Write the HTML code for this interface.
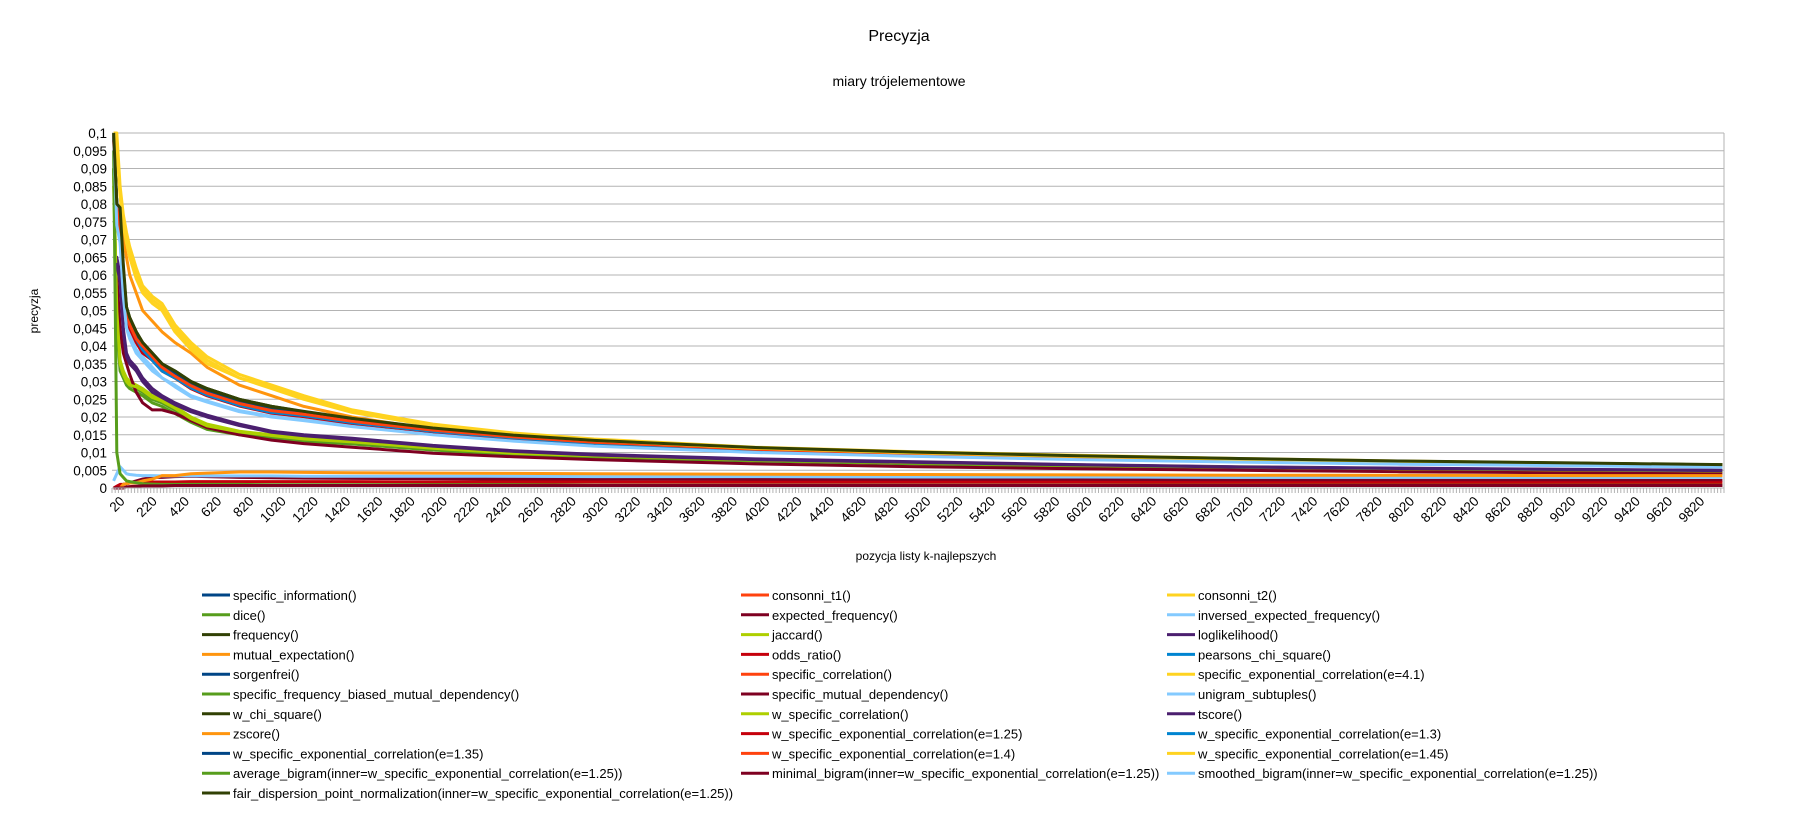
<!DOCTYPE html>
<html><head><meta charset="utf-8">
<style>
body{margin:0;background:#fff;}
svg text{font-family:"Liberation Sans",sans-serif;fill:#000;}
</style></head>
<body>
<svg id="chart" width="1796" height="811" viewBox="0 0 1796 811" xmlns="http://www.w3.org/2000/svg">
<rect width="1796" height="811" fill="#fff"/>
<text x="899" y="41" font-size="16" text-anchor="middle">Precyzja</text>
<text x="899" y="86" font-size="14" text-anchor="middle">miary trójelementowe</text>
<text x="0" y="0" font-size="12" text-anchor="middle" transform="translate(38,311) rotate(-90)">precyzja</text>
<text x="926" y="560" font-size="12" text-anchor="middle">pozycja listy k-najlepszych</text>
<g id="grid"></g><g id="series"></g><g id="axes"></g><g id="legend"></g>
</svg>
<script>
const kPos=[20,40,60,80,100,120,160,200,260,320,400,500,600,800,1000,1200,1500,2000,2500,3000,4000,5000,6000,7000,8000,9000,10000];
const yTicks=[0,0.005,0.01,0.015,0.02,0.025,0.03,0.035,0.04,0.045,0.05,0.055,0.06,0.065,0.07,0.075,0.08,0.085,0.09,0.095,0.1];
const yTickLabels=["0","0,005","0,01","0,015","0,02","0,025","0,03","0,035","0,04","0,045","0,05","0,055","0,06","0,065","0,07","0,075","0,08","0,085","0,09","0,095","0,1"];
const seriesNames=["specific_information()","consonni_t1()","consonni_t2()","dice()","expected_frequency()","inversed_expected_frequency()","frequency()","jaccard()","loglikelihood()","mutual_expectation()","odds_ratio()","pearsons_chi_square()","sorgenfrei()","specific_correlation()","specific_exponential_correlation(e=4.1)","specific_frequency_biased_mutual_dependency()","specific_mutual_dependency()","unigram_subtuples()","w_chi_square()","w_specific_correlation()","tscore()","zscore()","w_specific_exponential_correlation(e=1.25)","w_specific_exponential_correlation(e=1.3)","w_specific_exponential_correlation(e=1.35)","w_specific_exponential_correlation(e=1.4)","w_specific_exponential_correlation(e=1.45)","average_bigram(inner=w_specific_exponential_correlation(e=1.25))","minimal_bigram(inner=w_specific_exponential_correlation(e=1.25))","smoothed_bigram(inner=w_specific_exponential_correlation(e=1.25))","fair_dispersion_point_normalization(inner=w_specific_exponential_correlation(e=1.25))"];
const seriesColors=["#004586","#ff420e","#ffd320","#579d1c","#7e0021","#83caff","#314004","#aecf00","#4b1f6f","#ff950e","#c5000b","#0084d1"];
const s01=[0.1,0.08,0.074,0.06,0.05,0.047,0.043,0.04,0.037,0.034,0.032,0.029,0.027,0.024,0.022,0.021,0.019,0.0165,0.0145,0.013,0.011,0.0098,0.0088,0.008,0.0074,0.0069,0.0064];
const s02=[0.1,0.079,0.073,0.059,0.05,0.046,0.042,0.039,0.036,0.034,0.031,0.029,0.027,0.024,0.0218,0.0205,0.0188,0.0163,0.0143,0.0128,0.0108,0.0096,0.0087,0.0079,0.0073,0.0068,0.0063];
const s03=[0.1,0.1,0.085,0.077,0.072,0.068,0.062,0.057,0.054,0.052,0.046,0.041,0.037,0.032,0.029,0.026,0.022,0.018,0.0155,0.0138,0.0115,0.0102,0.0092,0.0083,0.0076,0.007,0.0065];
const s04=[0.09,0.05,0.035,0.032,0.03,0.029,0.028,0.027,0.025,0.024,0.022,0.019,0.017,0.0155,0.0145,0.0135,0.0128,0.011,0.0097,0.009,0.0078,0.007,0.0063,0.0058,0.0053,0.005,0.0047];
const s05=[0,0,0.0005,0.001,0.0012,0.0015,0.002,0.0025,0.003,0.003,0.0032,0.0033,0.0032,0.003,0.0029,0.0028,0.0027,0.0026,0.0025,0.0025,0.0024,0.0023,0.0023,0.0022,0.0022,0.0022,0.0021];
const s06=[0.002,0.004,0.006,0.005,0.004,0.0038,0.0036,0.0035,0.0035,0.0034,0.0034,0.0034,0.0034,0.0034,0.0034,0.0033,0.0033,0.0033,0.0033,0.0032,0.0032,0.0031,0.0031,0.003,0.003,0.003,0.003];
const s07=[0.1,0.08,0.078,0.062,0.05,0.048,0.044,0.041,0.038,0.035,0.033,0.03,0.028,0.025,0.023,0.0215,0.0195,0.0168,0.0148,0.0133,0.0113,0.01,0.009,0.0082,0.0075,0.007,0.0065];
const s08=[0.085,0.05,0.036,0.033,0.031,0.03,0.029,0.028,0.026,0.025,0.023,0.02,0.018,0.016,0.015,0.014,0.013,0.0112,0.0099,0.0092,0.008,0.0072,0.0065,0.0059,0.0054,0.0051,0.0048];
const s09=[0.065,0.065,0.06,0.045,0.038,0.036,0.034,0.031,0.028,0.026,0.024,0.022,0.0205,0.018,0.016,0.015,0.014,0.012,0.0105,0.0095,0.0082,0.0074,0.0066,0.006,0.0056,0.0053,0.005];
const s10=[0.09,0.08,0.075,0.07,0.065,0.06,0.055,0.05,0.047,0.044,0.041,0.038,0.034,0.029,0.026,0.023,0.02,0.0165,0.014,0.0125,0.0107,0.0095,0.0085,0.0077,0.0071,0.0066,0.006];
const s11=[0,0.0005,0.001,0.001,0.0012,0.0014,0.0015,0.0016,0.0017,0.0017,0.0017,0.0018,0.0018,0.0018,0.0018,0.0018,0.0018,0.0017,0.0017,0.0017,0.0016,0.0016,0.0016,0.0015,0.0015,0.0015,0.0015];
const s12=[0.1,0.078,0.072,0.058,0.049,0.046,0.042,0.039,0.036,0.033,0.031,0.028,0.0262,0.0233,0.0213,0.0203,0.0185,0.016,0.0141,0.0126,0.0107,0.0095,0.0085,0.0078,0.0072,0.0067,0.0062];
const s13=[0.1,0.079,0.073,0.06,0.05,0.047,0.043,0.04,0.037,0.034,0.0315,0.0288,0.0268,0.0238,0.0218,0.0208,0.0188,0.0163,0.0144,0.0129,0.0109,0.0097,0.0087,0.0079,0.0073,0.0068,0.0063];
const s14=[0.095,0.078,0.072,0.058,0.049,0.046,0.042,0.039,0.036,0.033,0.031,0.028,0.026,0.0232,0.0214,0.0203,0.0184,0.016,0.014,0.0126,0.0107,0.0095,0.0085,0.0078,0.0072,0.0067,0.0062];
const s15=[0.1,0.098,0.083,0.075,0.07,0.066,0.06,0.056,0.053,0.051,0.045,0.04,0.036,0.031,0.0285,0.0255,0.0216,0.0177,0.0152,0.0135,0.0113,0.01,0.009,0.0081,0.0075,0.0069,0.0064];
const s16=[0.09,0.045,0.033,0.031,0.029,0.028,0.027,0.026,0.024,0.023,0.021,0.0185,0.0165,0.015,0.014,0.0131,0.0124,0.0107,0.0094,0.0087,0.0076,0.0068,0.0061,0.0056,0.0052,0.0049,0.0046];
const s17=[0.06,0.06,0.045,0.038,0.035,0.032,0.027,0.024,0.022,0.022,0.021,0.019,0.017,0.015,0.0135,0.0125,0.0115,0.0098,0.0088,0.008,0.0068,0.006,0.0054,0.005,0.0046,0.0043,0.004];
const s18=[0.1,0.075,0.07,0.055,0.046,0.043,0.039,0.037,0.034,0.031,0.029,0.026,0.0245,0.0218,0.0202,0.0192,0.0175,0.0152,0.0134,0.012,0.0102,0.009,0.0081,0.0074,0.0068,0.0064,0.006];
const s19=[0.1,0.08,0.077,0.061,0.051,0.048,0.044,0.041,0.038,0.035,0.0325,0.0295,0.0275,0.0245,0.0225,0.0212,0.0192,0.0166,0.0146,0.0131,0.0111,0.0099,0.0089,0.0081,0.0075,0.007,0.0065];
const s20=[0.088,0.05,0.035,0.032,0.03,0.029,0.0285,0.0275,0.0255,0.0245,0.0225,0.0195,0.0175,0.0158,0.0148,0.0138,0.013,0.0112,0.0098,0.0091,0.0079,0.0071,0.0064,0.0059,0.0054,0.0051,0.0048];
const s21=[0.063,0.063,0.058,0.044,0.037,0.035,0.033,0.03,0.027,0.0255,0.0235,0.0215,0.02,0.0176,0.0157,0.0147,0.0137,0.0118,0.0103,0.0093,0.008,0.0072,0.0065,0.0059,0.0055,0.0052,0.0049];
const s22=[0,0,0,0.001,0.0012,0.0014,0.0015,0.002,0.0025,0.0035,0.0035,0.004,0.0042,0.0045,0.0045,0.0044,0.0043,0.0042,0.0041,0.004,0.0039,0.0038,0.0037,0.0036,0.0036,0.0035,0.0035];
const s23=[0.098,0.078,0.071,0.058,0.049,0.045,0.041,0.038,0.036,0.033,0.031,0.028,0.026,0.0231,0.0211,0.0201,0.0182,0.0158,0.0139,0.0125,0.0106,0.0094,0.0085,0.0077,0.0071,0.0066,0.0062];
const s24=[0.1,0.078,0.072,0.058,0.049,0.046,0.042,0.039,0.036,0.033,0.031,0.0282,0.0262,0.0233,0.0213,0.0204,0.0184,0.016,0.0141,0.0126,0.0107,0.0095,0.0085,0.0078,0.0072,0.0067,0.0062];
const s25=[0.1,0.08,0.074,0.06,0.05,0.047,0.043,0.04,0.037,0.034,0.032,0.029,0.027,0.024,0.022,0.021,0.019,0.0165,0.0145,0.013,0.011,0.0098,0.0088,0.008,0.0074,0.0069,0.0064];
const s26=[0.1,0.079,0.073,0.059,0.05,0.046,0.042,0.04,0.037,0.034,0.0315,0.0288,0.0267,0.0238,0.0218,0.0208,0.0188,0.0163,0.0144,0.0129,0.0109,0.0097,0.0087,0.0079,0.0073,0.0068,0.0063];
const s27=[0.1,0.096,0.082,0.074,0.069,0.065,0.059,0.055,0.052,0.05,0.044,0.039,0.035,0.031,0.028,0.025,0.0213,0.0175,0.015,0.0134,0.0112,0.0099,0.0089,0.0081,0.0074,0.0068,0.0063];
const s28=[0.095,0.01,0.004,0.003,0.002,0.0018,0.0015,0.0012,0.0011,0.001,0.001,0.001,0.001,0.001,0.0009,0.0009,0.0009,0.0009,0.0009,0.0008,0.0008,0.0008,0.0008,0.0008,0.0008,0.0008,0.0008];
const s29=[0,0,0,0,0.0003,0.0004,0.0005,0.0006,0.0006,0.0006,0.0007,0.0007,0.0007,0.0007,0.0007,0.0007,0.0007,0.0007,0.0007,0.0007,0.0007,0.0007,0.0007,0.0007,0.0007,0.0007,0.0007];
const s30=[0.1,0.074,0.069,0.054,0.045,0.042,0.038,0.036,0.033,0.031,0.0285,0.0257,0.0242,0.0215,0.02,0.019,0.0173,0.015,0.0132,0.0118,0.01,0.0089,0.008,0.0073,0.0067,0.0063,0.0059];
const s31=[0.1,0.08,0.079,0.063,0.051,0.048,0.044,0.041,0.038,0.035,0.033,0.03,0.028,0.025,0.023,0.0216,0.0196,0.0169,0.0149,0.0134,0.0114,0.0101,0.0091,0.0083,0.0076,0.0071,0.0066];
const seriesValues=[s01,s02,s03,s04,s05,s06,s07,s08,s09,s10,s11,s12,s13,s14,s15,s16,s17,s18,s19,s20,s21,s22,s23,s24,s25,s26,s27,s28,s29,s30,s31];

const NS="http://www.w3.org/2000/svg";
const X0=112,X1=1724,Y0=488,Y1=133,NCAT=500;
const catW=(X1-X0)/NCAT;
function xScale(k){return X0+(k/20-0.5)*catW;}
function yScale(v){return Y0-(v/0.1)*(Y0-Y1);}
function mk(tag,attrs,parent){const e=document.createElementNS(NS,tag);for(const a in attrs)e.setAttribute(a,attrs[a]);parent.appendChild(e);return e;}

const grid=document.getElementById('grid');
yTicks.forEach((t,i)=>{
  const y=yScale(t);
  if(i>0){const l=mk('line',{x1:X0,x2:X1,y1:y,y2:y,stroke:'#b3b3b3','stroke-width':1},grid);
  
  }
  const tx=mk('text',{x:107,y:y+5,'font-size':13.5,'text-anchor':'end'},grid);
  tx.textContent=yTickLabels[i];
  
  
});
mk('line',{x1:X1,x2:X1,y1:Y1,y2:Y0,stroke:'#b3b3b3'},grid);

const sg=document.getElementById('series');
seriesValues.forEach((vals,i)=>{
  const pts=kPos.map((k,j)=>xScale(k).toFixed(1)+','+yScale(vals[j]).toFixed(1)).join(' ');
  const p=mk('polyline',{points:pts,fill:'none',stroke:seriesColors[i%12],'stroke-width':3,'stroke-linejoin':'round'},sg);
  
  
});

const ax=document.getElementById('axes');
const axl=mk('line',{x1:X0,x2:X1,y1:Y0,y2:Y0,stroke:'#b3b3b3'},ax);


let tickPath='';
for(let c=0;c<=NCAT;c++){const x=(X0+c*catW).toFixed(1);tickPath+='M'+x+' '+Y0+'V'+(Y0+5);}
mk('path',{d:tickPath,stroke:'#b3b3b3','stroke-width':1},ax);
for(let c=0;c<NCAT;c+=10){
  const k=(c+1)*20;const x=xScale(k);
  const t=mk('text',{x:0,y:0,'font-size':13.5,'text-anchor':'end',transform:'translate('+(x+12)+','+(Y0+14)+') rotate(-45)'},ax);
  t.textContent=String(k);
  
  
}

const lg=document.getElementById('legend');
const colX=[202,741,1167];
seriesNames.forEach((n,i)=>{
  const r=Math.floor(i/3),c=i%3;const y=595+r*19.8;
  const g=mk('g',{},lg);
  
  
  mk('line',{x1:colX[c],x2:colX[c]+28,y1:y,y2:y,stroke:seriesColors[i%12],'stroke-width':3},g);
  const t=mk('text',{x:colX[c]+31,y:y+5,'font-size':13},g);
  t.textContent=n;
});
</script>
</body></html>
